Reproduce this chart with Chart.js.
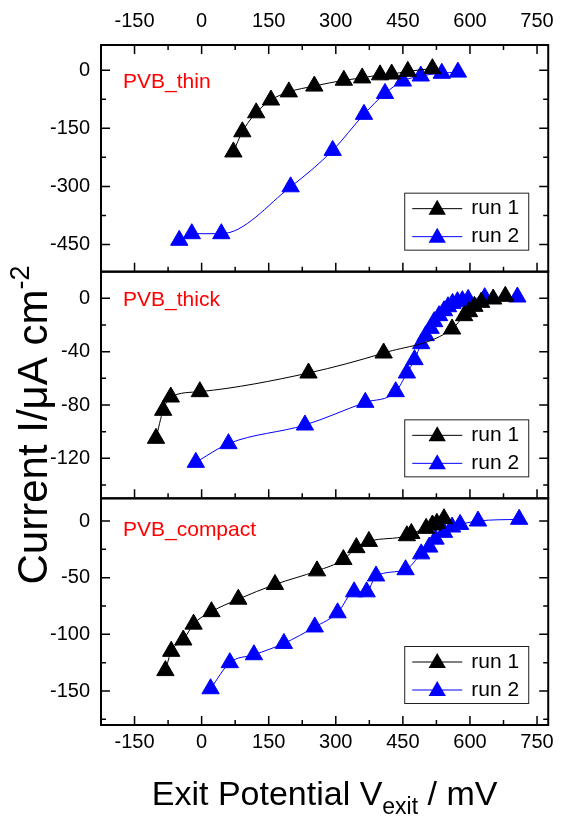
<!DOCTYPE html>
<html>
<head>
<meta charset="utf-8">
<script src="https://cdn.jsdelivr.net/npm/chart.js@4.4.1/dist/chart.umd.min.js"></script>
<style>
  html, body { margin: 0; padding: 0; background: #fff; }
  #wrap { width: 566px; height: 818px; }
</style>
</head>
<body>
<div id="wrap"><canvas id="chart" width="566" height="818"></canvas></div>
<script>
// x axis (exit potential, mV)
const xTicks = [-150, 0, 150, 300, 450, 600, 750];

// y ticks per panel
const thinTicks = [0, -150, -300, -450];
const thickTicks = [0, -40, -80, -120];
const compactTicks = [0, -50, -100, -150];

// PVB_thin
const thinRun1X = [71, 91, 122, 155, 195, 252, 318, 359, 399, 425, 461, 516];
const thinRun1Y = [-211, -159, -110, -77, -56, -41, -26, -20, -12, -10, -3, 4];
const thinRun2X = [-50, -22, 44, 199, 293, 363, 410, 450, 490, 537, 573];
const thinRun2Y = [-439, -422, -422, -301, -207, -114, -60, -28, -15, -8, -5];

// PVB_thick
const thickRun1X = [-102, -86, -69, -4, 239, 407, 560, 587, 598, 610, 625, 652, 679];
const thickRun1Y = [-105, -84, -74, -70, -56, -41, -23, -13, -10, -6, -3, -0.5, 1.5];
const thickRun2X = [-13, 60, 231, 366, 434, 459, 476, 491, 501, 512, 520, 531, 542, 551, 561, 572, 583, 596, 633, 706];
const thickRun2Y = [-123, -109, -95, -78, -70, -56, -46, -34, -28, -22.5, -17.5, -13, -9.3, -6.3, -3.8, -2.5, -1.8, -0.8, 0.5, 1];

// PVB_compact
const compactRun1X = [-81, -68, -41, -18, 22, 82, 164, 258, 317, 346, 374, 459, 469, 502, 516, 526, 542];
const compactRun1Y = [-132, -115, -105, -91, -80, -69, -56, -44, -34, -23.5, -18, -13, -11, -6.5, -3.5, -2, 2];
const compactRun2X = [20, 63, 117, 184, 253, 304, 341, 369, 390, 456, 491, 509, 523, 542, 560, 578, 618, 710];
const compactRun2Y = [-148, -125, -118, -108, -93.5, -81, -62.5, -62.5, -48.5, -43, -29, -23, -16, -10, -5.3, -3, 0, 1.5];

const FONT = '"Liberation Sans", Arial, sans-serif';
const BLACK = '#000000';
const BLUE = '#0000ff';
const MARK = 10;

const zip = (xs, ys) => xs.map((x, i) => ({ x, y: ys[i] }));

function series(label, xs, ys, color, axis) {
  return {
    label,
    data: zip(xs, ys),
    yAxisID: axis,
    showLine: true,
    borderColor: color,
    backgroundColor: color,
    borderWidth: 1,
    pointStyle: 'triangle',
    pointRadius: MARK,
    pointBorderWidth: 1,
    pointHoverRadius: MARK,
    cubicInterpolationMode: 'monotone'
  };
}

// top to bottom
const panels = [
  { id: 'yThin', name: 'PVB_thin', ticks: thinTicks, min: -520, max: 65, minor: 75, labelDy: 37 },
  { id: 'yThick', name: 'PVB_thick', ticks: thickTicks, min: -150, max: 20, minor: 20, labelDy: 29 },
  { id: 'yCompact', name: 'PVB_compact', ticks: compactTicks, min: -180, max: 20, minor: 25, labelDy: 32 }
];

function yScale(p) {
  return {
    type: 'linear',
    position: 'left',
    stack: 'panels',
    stackWeight: 1,
    min: p.min,
    max: p.max,
    afterBuildTicks: s => { s.ticks = p.ticks.map(v => ({ value: v })); },
    afterFit: s => { s.width = 101; },
    grid: { display: false, drawTicks: false },
    border: { display: false },
    ticks: { color: '#000', font: { family: FONT, size: 20 }, padding: 11 }
  };
}

function drawTriangle(ctx, x, y, r, color) {
  ctx.beginPath();
  ctx.moveTo(x, y - r);
  ctx.lineTo(x + r * Math.sqrt(3) / 2, y + r / 2);
  ctx.lineTo(x - r * Math.sqrt(3) / 2, y + r / 2);
  ctx.closePath();
  ctx.fillStyle = color;
  ctx.fill();
}

const framePlugin = {
  id: 'frames',
  afterDraw(chart) {
    const ctx = chart.ctx;
    const a = chart.chartArea;
    const xs = chart.scales.x;
    const majorLen = 9, minorLen = 5;
    ctx.save();
    ctx.strokeStyle = '#000';

    panels.forEach((p, i) => {
      const s = chart.scales[p.id];
      const top = s.top, bottom = s.bottom;

      // ticks (inward)
      ctx.lineWidth = 1.5;
      ctx.beginPath();
      for (let v = -225; v <= 775; v += 75) {
        const px = xs.getPixelForValue(v);
        if (px <= a.left + 1 || px >= a.right - 1) continue;
        const len = xTicks.includes(v) ? majorLen : minorLen;
        ctx.moveTo(px, bottom); ctx.lineTo(px, bottom - len);
        if (i === 0) { ctx.moveTo(px, top); ctx.lineTo(px, top + len); }
      }
      const start = Math.ceil(p.min / p.minor) * p.minor;
      for (let v = start; v <= p.max; v += p.minor) {
        const py = s.getPixelForValue(v);
        if (py <= top + 1 || py >= bottom - 1) continue;
        const len = p.ticks.includes(v) ? majorLen : minorLen;
        ctx.moveTo(a.left, py); ctx.lineTo(a.left + len, py);
        ctx.moveTo(a.right, py); ctx.lineTo(a.right - len, py);
      }
      ctx.stroke();

      // frame
      ctx.lineWidth = 2;
      ctx.strokeRect(a.left, top, a.right - a.left, bottom - top);

      // panel label
      ctx.fillStyle = '#ff0000';
      ctx.font = '21px ' + FONT;
      ctx.textAlign = 'left';
      ctx.textBaseline = 'middle';
      ctx.fillText(p.name, a.left + 22, top + p.labelDy);

      // legend box
      const bw = 124, bh = 57;
      const bx = a.right - 20 - bw, by = bottom - 22 - bh;
      ctx.fillStyle = '#fff';
      ctx.fillRect(bx, by, bw, bh);
      ctx.lineWidth = 1;
      ctx.strokeStyle = '#222';
      ctx.strokeRect(bx + 0.5, by + 0.5, bw, bh);
      const rows = [['run 1', BLACK], ['run 2', BLUE]];
      rows.forEach(([txt, col], k) => {
        const ry = by + 15 + k * 28;
        ctx.strokeStyle = col;
        ctx.lineWidth = 1;
        ctx.beginPath();
        ctx.moveTo(bx + 8, ry + 1); ctx.lineTo(bx + 58, ry + 1);
        ctx.stroke();
        drawTriangle(ctx, bx + 33, ry + 2, MARK, col);
        ctx.fillStyle = '#000';
        ctx.font = '21px ' + FONT;
        ctx.textAlign = 'left';
        ctx.textBaseline = 'middle';
        ctx.fillText(txt, bx + 67, ry + 1);
      });
      ctx.strokeStyle = '#000';
    });

    // x title with subscript
    ctx.fillStyle = '#000';
    ctx.textBaseline = 'alphabetic';
    ctx.textAlign = 'left';
    const big = '34px ' + FONT, small = '23px ' + FONT;
    const parts = [['Exit Potential V', big, 0], ['exit', small, 9], [' / mV', big, 0]];
    let total = 0;
    parts.forEach(([t, f]) => { ctx.font = f; total += ctx.measureText(t).width; });
    let cx = (a.left + a.right) / 2 - total / 2;
    parts.forEach(([t, f, dy]) => {
      ctx.font = f;
      ctx.fillText(t, cx, 805 + dy);
      cx += ctx.measureText(t).width;
    });

    // y title with superscript, rotated
    const ybig = '42px ' + FONT, ysmall = '27px ' + FONT;
    ctx.save();
    ctx.translate(47, 425);
    ctx.rotate(-Math.PI / 2);
    const yparts = [['Current I/\u03bcA cm', ybig, 0], ['-2', ysmall, -18]];
    total = 0;
    yparts.forEach(([t, f]) => { ctx.font = f; total += ctx.measureText(t).width; });
    cx = -total / 2;
    yparts.forEach(([t, f, dy]) => {
      ctx.font = f;
      ctx.fillText(t, cx, dy);
      cx += ctx.measureText(t).width;
    });
    ctx.restore();

    ctx.restore();
  }
};

const xCommon = {
  type: 'linear',
  min: -225,
  max: 775,
  afterBuildTicks: s => { s.ticks = xTicks.map(v => ({ value: v })); },
  grid: { display: false, drawTicks: false },
  border: { display: false },
  ticks: { color: '#000', font: { family: FONT, size: 20 }, maxRotation: 0, autoSkip: false }
};

new Chart(document.getElementById('chart'), {
  type: 'scatter',
  data: {
    datasets: [
      series('run 1', thinRun1X, thinRun1Y, BLACK, 'yThin'),
      series('run 2', thinRun2X, thinRun2Y, BLUE, 'yThin'),
      series('run 1', thickRun1X, thickRun1Y, BLACK, 'yThick'),
      series('run 2', thickRun2X, thickRun2Y, BLUE, 'yThick'),
      series('run 1', compactRun1X, compactRun1Y, BLACK, 'yCompact'),
      series('run 2', compactRun2X, compactRun2Y, BLUE, 'yCompact')
    ]
  },
  options: {
    responsive: false,
    animation: false,
    devicePixelRatio: 1,
    layout: { padding: { left: 0, right: 8, top: 0, bottom: 0 } },
    plugins: {
      legend: { display: false },
      tooltip: { enabled: false },
      title: { display: false }
    },
    scales: {
      x: Object.assign({}, xCommon, {
        position: 'bottom',
        afterFit: s => { s.height = 93; },
        ticks: Object.assign({}, xCommon.ticks, { padding: 5 })
      }),
      x2: Object.assign({}, xCommon, {
        position: 'top',
        afterFit: s => { s.height = 45; },
        ticks: Object.assign({}, xCommon.ticks, { padding: 12 })
      }),
      // stacked panels: last declared ends up on top
      yCompact: yScale(panels[2]),
      yThick: yScale(panels[1]),
      yThin: yScale(panels[0])
    }
  },
  plugins: [framePlugin]
});
</script>
</body>
</html>
